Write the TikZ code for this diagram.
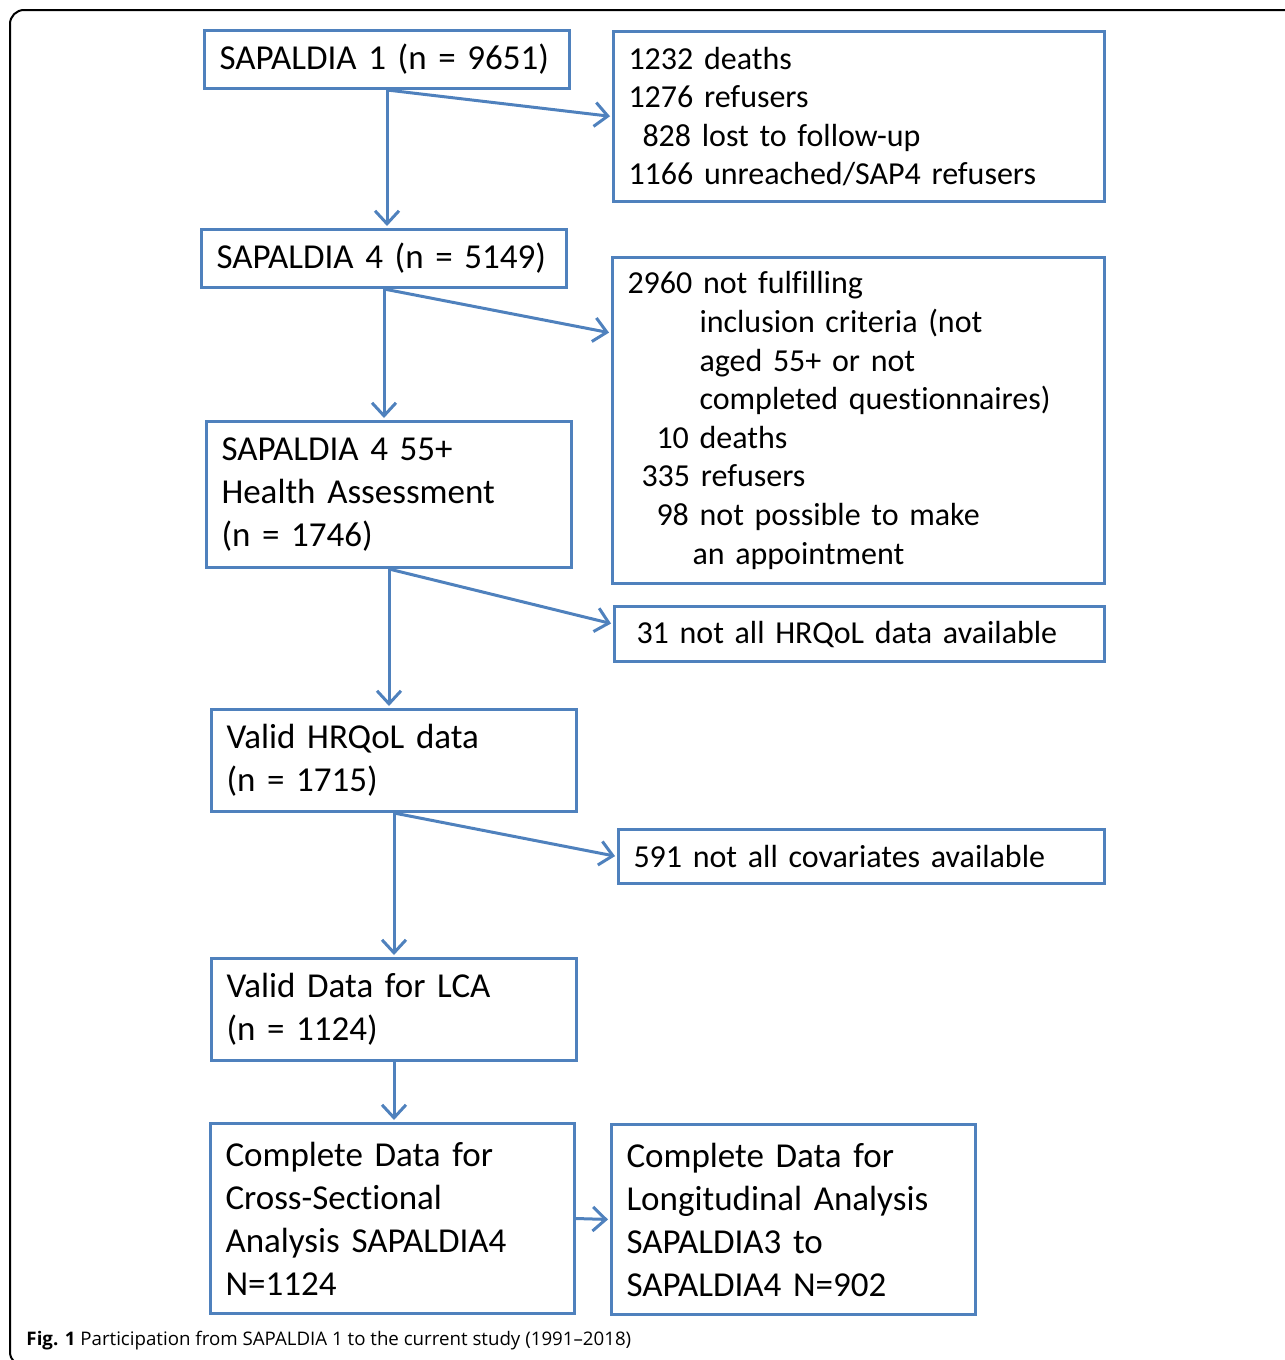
\documentclass[tikz,border=0pt]{standalone}
\usepackage{fontspec}
\setmainfont{Carlito}[Ligatures={TeX,NoCommon},WordSpace=0.85]
\newfontfamily\capfont{Open Sans}
\usetikzlibrary{arrows.meta}
\definecolor{boxblue}{RGB}{79,129,189}

\tikzstyle{mb} = [rectangle, anchor=north west, text width=335pt, inner xsep=15pt, inner ysep=0pt, align=left, draw=boxblue, line width=3pt, fill=white, font=\fontsize{35}{43}\selectfont]
\tikzstyle{ex} = [rectangle, anchor=north west, text width=461pt, inner xsep=15pt, inner ysep=0pt, align=left, draw=boxblue, line width=3pt, fill=white, font=\fontsize{32}{38.6}\selectfont]

\begin{document}
\begin{tikzpicture}[x=1pt,y=-1pt,->,>={Straight Barb[length=13pt,width=24pt]},shorten >=2pt,line width=3pt,draw=boxblue]
        \useasboundingbox (0,0) rectangle (1285,1360);
        \draw[-, black, line width=2pt, rounded corners=14pt, shorten >=0pt] (1300,10) -- (10,10) -- (10,1366) -- (60,1366);
        % main column
        \node[mb, minimum height=58pt] (s1) at (203,29) {SAPALDIA 1 (n = 9651)};
        \node[mb, minimum height=58pt] (s4) at (200,228) {SAPALDIA 4 (n = 5149)};
        \node[mb, minimum height=146pt] (ha) at (205,420) {SAPALDIA 4 55+\\Health Assessment\\(n = 1746)};
        \node[mb, minimum height=102pt] (hq) at (210,708) {Valid HRQoL data\\(n = 1715)};
        \node[mb, minimum height=102pt] (lca) at (210,957) {Valid Data for LCA\\(n = 1124)};
        \node[mb, minimum height=190pt, text width=334pt] (cs) at (209,1122) {Complete Data for\\Cross-Sectional\\Analysis SAPALDIA4\\N=1124};
        \node[mb, minimum height=190pt, text width=334pt] (lo) at (610,1123) {Complete Data for\\Longitudinal Analysis\\SAPALDIA3 to\\SAPALDIA4 N=902};
        % exclusions
        \node[ex, minimum height=170pt] (x1) at (612,30) {1232 deaths\\1276 refusers\\\hspace*{14pt}828 lost to follow-up\\1166 unreached/SAP4 refusers};
        \node[ex, minimum height=326pt, text width=462pt] (x2) at (611,256) {2960 not fulfilling\\\hspace*{72pt}inclusion criteria (not\\\hspace*{72pt}aged 55+ or not\\\hspace*{72pt}completed questionnaires)\\\hspace*{29pt}10 deaths\\\hspace*{14pt}335 refusers\\\hspace*{29pt}98 not possible to make\\\hspace*{65pt}an appointment};
        \node[ex, minimum height=55pt, text width=466pt, inner xsep=12pt] (x3) at (613,605) {\hspace*{10pt}31 not all HRQoL data available};
        \node[ex, minimum height=54pt, text width=456pt] (x4) at (617,828) {591 not all covariates available};
        \node[anchor=west, inner sep=0pt, font=\capfont\fontsize{18.7}{22}\selectfont] (cap) at (25,1341) {\textbf{Fig. 1} Participation from SAPALDIA 1 to the current study (1991–2018)};
        % connectors
        \draw (s1.south) -- (s1.south |- s4.north);
        \draw (s1.south) -- (x1.west);
        \draw (s4.south) -- (s4.south |- ha.north);
        \draw (s4.south) -- ([yshift=-77pt]x2.north west);
        \draw (ha.south) -- (ha.south |- hq.north);
        \draw (ha.south) -- ([yshift=10pt]x3.west);
        \draw (hq.south) -- (hq.south |- lca.north);
        \draw (hq.south) -- (x4.west);
        \draw (lca.south) -- (lca.south |- cs.north);
        \draw (cs.east) -- (lo.west);
\end{tikzpicture}
\end{document}
